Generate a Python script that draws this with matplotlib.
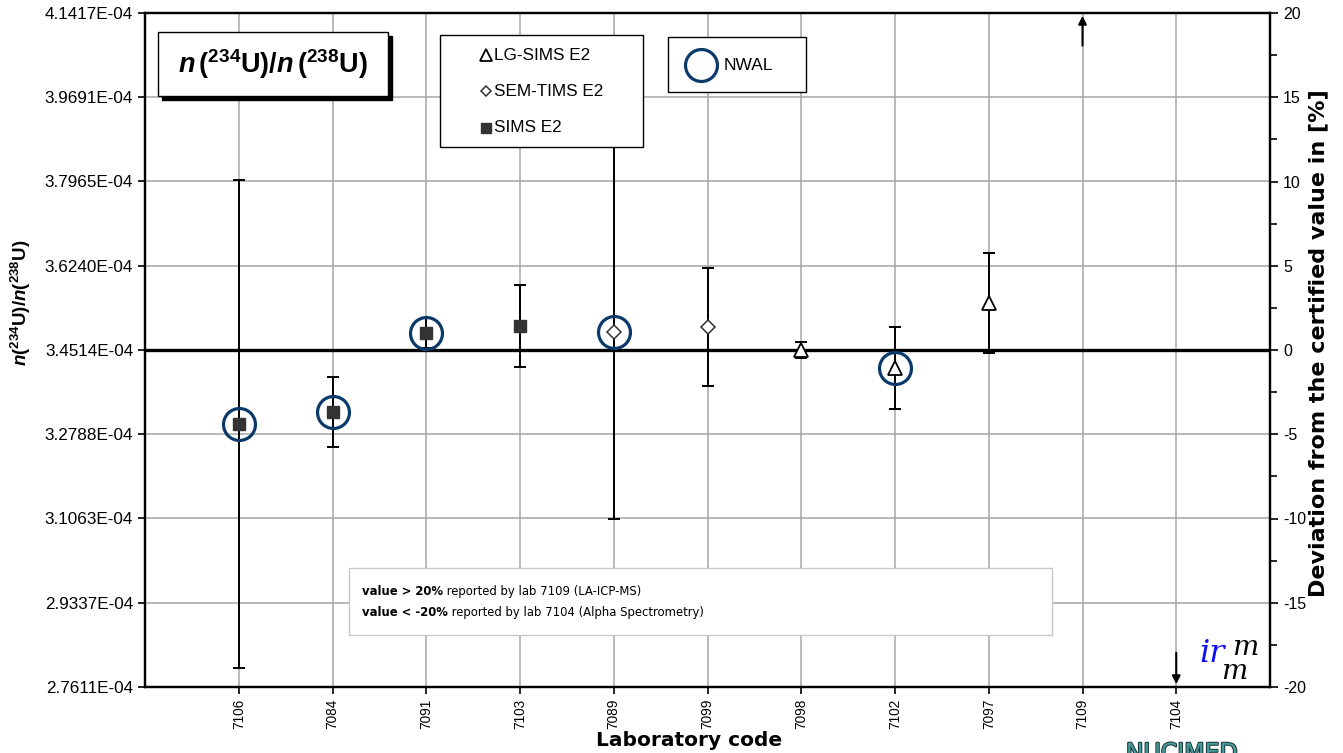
import numpy as np
import matplotlib
matplotlib.use("Agg")
from matplotlib import pyplot as plt
from matplotlib.patches import Rectangle
from matplotlib.lines import Line2D
import matplotlib.patheffects as pe

# certified value and lab results (deviation in %)
certified = 3.4514e-4
codes = ['7106', '7084', '7091', '7103', '7089', '7099', '7098', '7102', '7097', '7109', '7104']
labs = ['7106', '7084', '7091', '7103', '7089', '7099', '7098', '7102', '7097']
dev = [-4.39, -3.68, 1.00, 1.42, 1.07, 1.37, 0.00, -1.07, 2.79]
unc = [14.5, 2.1, 0.9, 2.45, 11.1, 3.5, 0.5, 2.45, 2.97]
method = ['SIMS', 'SIMS', 'SIMS', 'SIMS', 'SEM-TIMS', 'SEM-TIMS', 'LG-SIMS', 'LG-SIMS', 'LG-SIMS']
nwal = ['7106', '7084', '7091', '7089', '7102']
off_high = ['7109']
off_low = ['7104']

plt.rcParams['axes.unicode_minus'] = False
plt.rcParams['mathtext.fontset'] = 'custom'
plt.rcParams['mathtext.rm'] = 'Liberation Sans:bold'
plt.rcParams['mathtext.it'] = 'Liberation Sans:italic:bold'
plt.rcParams['mathtext.bf'] = 'Liberation Sans:bold'

W, H = 1343, 753
def fx(x):
    return x / W
def fy(y):
    return 1 - y / H

fig = plt.figure(figsize=(W / 100, H / 100), dpi=100)
ax = fig.add_axes([fx(145), fy(687), (1270 - 145) / W, (687 - 13) / H])
ax2 = ax.twinx()

pos = {c: i + 1 for i, c in enumerate(codes)}
x = np.array([pos[c] for c in labs])
dev = np.array(dev)
unc = np.array(unc)

# left axis in ratio units
lt = certified * (1 + np.arange(-4, 5) * 0.05)
ax.set_ylim(certified * 0.8, certified * 1.2)
ax.set_yticks(lt)
ax.set_yticklabels(['%.4E' % v for v in lt], fontsize=12.3, family='Liberation Sans')
ax.set_xlim(0, len(codes) + 1)
ax.set_xticks(list(pos.values()))
ax.set_xticklabels(codes, rotation=90, fontsize=9.8, family='Liberation Sans')
ax.grid(True, color='#a6a6a6', lw=1.1)
ax.set_axisbelow(True)
ax.tick_params(axis='both', direction='out', length=5, width=1.2)

# right axis in %
ax2.set_ylim(-20, 20)
ax2.set_yticks(np.arange(-20, 21, 5))
ax2.set_yticks(np.arange(-17.5, 20, 5), minor=True)
ax2.tick_params(axis='y', which='major', direction='out', length=6, width=1.2, labelsize=11.5)
ax2.tick_params(axis='y', which='minor', direction='out', length=5, width=1.2)
for lab in ax2.get_yticklabels():
    lab.set_family('Liberation Sans')
for a in (ax, ax2):
    for s in a.spines.values():
        s.set_linewidth(1.6)
        s.set_color('black')

ax2.errorbar(x, dev, yerr=unc, fmt='none', ecolor='black', elinewidth=1.4,
             capsize=4, capthick=1.4, zorder=2)
ax2.axhline(0, color='black', lw=2.4, zorder=3)

styles = {
    'SIMS': dict(marker='s', ms=8.5, mfc='#333333', mec='#333333', mew=1),
    'SEM-TIMS': dict(marker='D', ms=7, mfc='white', mec='#333333', mew=1.1),
    'LG-SIMS': dict(marker='^', ms=10, mfc='white', mec='black', mew=1.3),
}
for m, st in styles.items():
    sel = [i for i, mm in enumerate(method) if mm == m]
    ax2.plot(x[sel], dev[sel], ls='none', zorder=4, **st)

sel = [i for i, c in enumerate(labs) if c in nwal]
ax2.plot(x[sel], dev[sel], ls='none', marker='o', ms=23, mfc='none',
         mec='#0a3a6a', mew=2.3, zorder=5)

for c in off_high:
    ax2.annotate('', xy=(pos[c], 20), xytext=(pos[c], 17.9),
                 arrowprops=dict(arrowstyle='-|>', color='black', lw=1.5, mutation_scale=12))
for c in off_low:
    ax2.annotate('', xy=(pos[c], -20), xytext=(pos[c], -17.8),
                 arrowprops=dict(arrowstyle='-|>', color='black', lw=1.5, mutation_scale=12))

# axis labels
ratio_lbl = r'$\mathit{n}\mathrm{(^{234}U)/}\mathit{n}\mathrm{(^{238}U)}$'
title_lbl = r'$\mathit{n}\,\mathrm{(^{234}U)/}\mathit{n}\,\mathrm{(^{238}U)}$'
fig.text(fx(21), fy(303), ratio_lbl, rotation=90, fontsize=13.5, ha='center', va='center')
fig.text(fx(689), fy(741), 'Laboratory code', fontsize=14.5, fontweight='bold',
         family='DejaVu Sans', ha='center', va='center')
fig.text(fx(1318), fy(343), 'Deviation from the certified value in [%]', rotation=90,
         fontsize=16, fontweight='bold', family='DejaVu Sans', ha='center', va='center')

# title box with shadow
fig.patches.append(Rectangle((fx(162), fy(100)), (388 - 158) / W, (96 - 32) / H,
                             transform=fig.transFigure, fc='black', ec='black', zorder=10))
fig.patches.append(Rectangle((fx(158), fy(96)), (388 - 158) / W, (96 - 32) / H,
                             transform=fig.transFigure, fc='white', ec='black', lw=1, zorder=11))
fig.text(fx(273), fy(64), title_lbl, fontsize=19.5, ha='center', va='center', zorder=12)

# method legend box
fig.patches.append(Rectangle((fx(440), fy(147)), (643 - 440) / W, (147 - 35) / H,
                             transform=fig.transFigure, fc='white', ec='black', lw=1, zorder=10))
leg_items = [('LG-SIMS E2', 'LG-SIMS', 55), ('SEM-TIMS E2', 'SEM-TIMS', 91), ('SIMS E2', 'SIMS', 128)]
for txt, m, yy in leg_items:
    st = dict(styles[m])
    st['ms'] = st['ms'] * 0.8
    fig.lines.append(Line2D([fx(486)], [fy(yy)], transform=fig.transFigure, ls='none',
                            zorder=11, **st))
    fig.text(fx(494), fy(yy), txt, fontsize=12.3, family='Liberation Sans',
             ha='left', va='center', zorder=12)

# NWAL legend box
fig.patches.append(Rectangle((fx(668), fy(92)), (806 - 668) / W, (92 - 37) / H,
                             transform=fig.transFigure, fc='white', ec='black', lw=1, zorder=10))
fig.lines.append(Line2D([fx(701)], [fy(65)], transform=fig.transFigure, ls='none', marker='o',
                        ms=23, mfc='none', mec='#0a3a6a', mew=2.3, zorder=11))
fig.text(fx(724), fy(66), 'NWAL', fontsize=12.5, family='Liberation Sans',
         ha='left', va='center', zorder=12)

# note box
fig.patches.append(Rectangle((fx(349), fy(635)), (1052 - 349) / W, (635 - 568) / H,
                             transform=fig.transFigure, fc='white', ec='#c8c8c8', lw=1, zorder=10))
for yy, b, r in [(598, 'value > 20%', ' reported by lab 7109 (LA-ICP-MS)'),
                 (619, 'value < -20%', ' reported by lab 7104 (Alpha Spectrometry)')]:
    t = fig.text(fx(362), fy(yy), b, fontsize=8.4, fontweight='bold', family='DejaVu Sans',
                 ha='left', va='bottom', zorder=12)
    fig.add_artist(plt.Annotation(r, xy=(1, 0), xycoords=t, fontsize=8.4, family='DejaVu Sans',
                                  ha='left', va='bottom', zorder=12))

# irmm logo
fig.text(fx(1199), fy(662), 'ir', fontsize=23, style='italic', family='DejaVu Serif',
         color='#1010ee', ha='left', va='baseline', zorder=12)
fig.text(fx(1232), fy(655), 'm', fontsize=20, style='italic', family='DejaVu Serif',
         color='black', ha='left', va='baseline', zorder=12)
fig.text(fx(1221), fy(679), 'm', fontsize=20, style='italic', family='DejaVu Serif',
         color='black', ha='left', va='baseline', zorder=12)

t = fig.text(fx(1182), fy(741), 'NUCIMED', fontsize=17, family='DejaVu Sans',
             color='#4a9c9c', ha='center', va='top')
t.set_path_effects([pe.withStroke(linewidth=1.5, foreground='#1a3a3a')])

fig.savefig('out.png', dpi=100)
